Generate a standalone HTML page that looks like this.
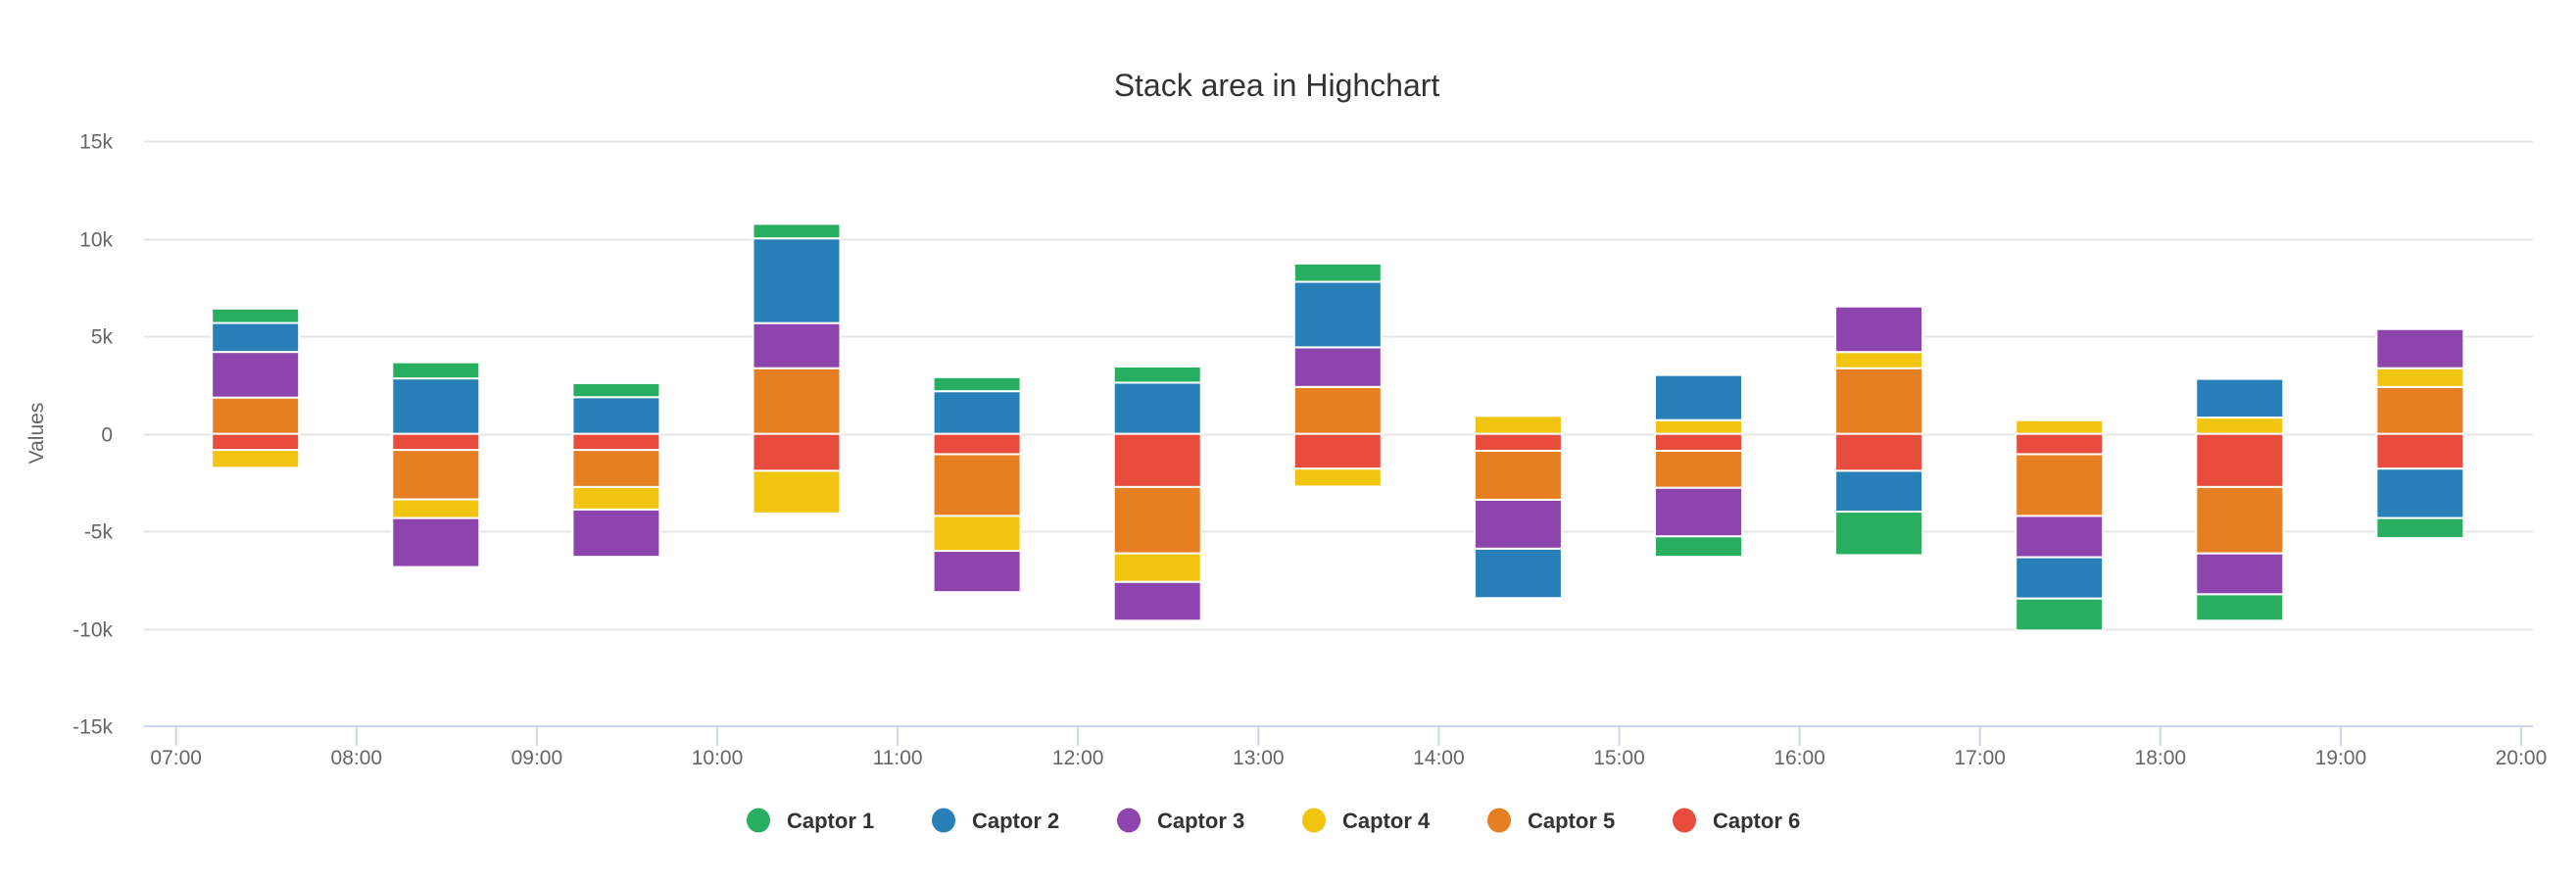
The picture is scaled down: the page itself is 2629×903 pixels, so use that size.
<!DOCTYPE html>
<html><head><meta charset="utf-8"><style>
html,body{margin:0;padding:0;background:#fff;}
svg{display:block;font-family:"Liberation Sans",Arial,sans-serif;}
</style></head><body>
<svg id="chart" width="2629" height="903" viewBox="0 0 2629 903" xmlns="http://www.w3.org/2000/svg">
<text x="1303" y="98" text-anchor="middle" font-size="32" fill="#333">Stack area in Highchart</text>
<text transform="translate(44,442) rotate(-90)" text-anchor="middle" font-size="21" fill="#666">Values</text>
<g id="grid"></g><g id="bars"></g><g id="xaxis"></g><g id="legend"></g>
</svg>
<script>
const categories=["07:00","08:00","09:00","10:00","11:00","12:00","13:00","14:00","15:00","16:00","17:00","18:00","19:00"];
const tickLabels=["07:00","08:00","09:00","10:00","11:00","12:00","13:00","14:00","15:00","16:00","17:00","18:00","19:00","20:00"];
const yTicks=[15000,10000,5000,0,-5000,-10000,-15000];
const seriesNames=["Captor 1","Captor 2","Captor 3","Captor 4","Captor 5","Captor 6"];
const seriesColors=["#27ae60","#2980b9","#8e44ad","#f1c40f","#e67e22","#e74c3c"];
const captor1=[742,829,721,742,720,829,939,0,-1048,-2227,-1637,-1353,-1026];
const captor2=[1485,2838,1877,4344,2183,2620,3361,-2533,2314,-2096,-2117,1986,-2532];
const captor3=[2340,-2511,-2423,2314,-2117,-1987,2031,-2510,-2489,2336,-2118,-2096,2008];
const captor4=[-916,-960,-1157,-2183,-1790,-1463,-917,917,699,829,699,830,961];
const captor5=[1856,-2532,-1899,3362,-3165,-3405,2401,-2511,-1899,3362,-3165,-3405,2401];
const captor6=[-830,-830,-830,-1899,-1048,-2729,-1790,-873,-873,-1899,-1048,-2729,-1790];
const series=[captor1,captor2,captor3,captor4,captor5,captor6];
const NS="http://www.w3.org/2000/svg";
const plotL=147,plotR=2585,x0=179.7,step=184.1,yZero=442.6,pxPerUnit=99.5/5000;
function xPos(i){return x0+i*step;}
function yPos(v){return yZero-v*pxPerUnit;}
function mk(tag,attrs,parent){const e=document.createElementNS(NS,tag);for(const k in attrs)e.setAttribute(k,attrs[k]);parent.appendChild(e);return e;}
const grid=document.getElementById('grid');
yTicks.forEach(t=>{
  const y=Math.round(yPos(t))+0.5;
  if(t!==-15000){const l=mk('line',{x1:plotL,x2:plotR,y1:y,y2:y,stroke:'#e6e6e6','stroke-width':2},grid);
  
  }
  const tx=mk('text',{x:115,y:y+7,'text-anchor':'end','font-size':21,fill:'#666'},grid);
  tx.textContent=t===0?'0':(t/1000)+'k';
  
  
});
const bars=document.getElementById('bars');
categories.forEach((c,i)=>{
  const cx=xPos(i)+81,w=89;
  let pos=0,neg=0;
  for(let s=5;s>=0;s--){
    const v=series[s][i];if(!v)continue;
    let a,b;
    if(v>0){a=pos;b=pos+v;pos=b;}else{a=neg;b=neg+v;neg=b;}
    const y1=yPos(Math.max(a,b)),y2=yPos(Math.min(a,b));
    const r=mk('rect',{x:cx-w/2,y:y1,width:w,height:y2-y1,fill:seriesColors[s],stroke:'#fff','stroke-width':2},bars);
    
    
  }
});
const xa=document.getElementById('xaxis');
const axl=mk('line',{x1:plotL,x2:plotR,y1:741,y2:741,stroke:'#ccd6eb','stroke-width':2},xa);


tickLabels.forEach((t,i)=>{
  const x=xPos(i);
  const tk=mk('line',{x1:x,x2:x,y1:741,y2:761,stroke:'#ccd6eb','stroke-width':2},xa);
  
  
  const tx=mk('text',{x:x,y:780,'text-anchor':'middle','font-size':21,fill:'#666'},xa);
  tx.textContent=t;
  
  
});
const lg=document.getElementById('legend');
seriesNames.forEach((n,i)=>{
  const x=774+i*189;
  const g=mk('g',{},lg);
  
  
  mk('ellipse',{cx:x,cy:837,rx:12,ry:12.5,fill:seriesColors[i]},g);
  const tx=mk('text',{x:x+29,y:845,'font-size':22,'font-weight':'bold',fill:'#333'},g);
  tx.textContent=n;
});
</script>
</body></html>
